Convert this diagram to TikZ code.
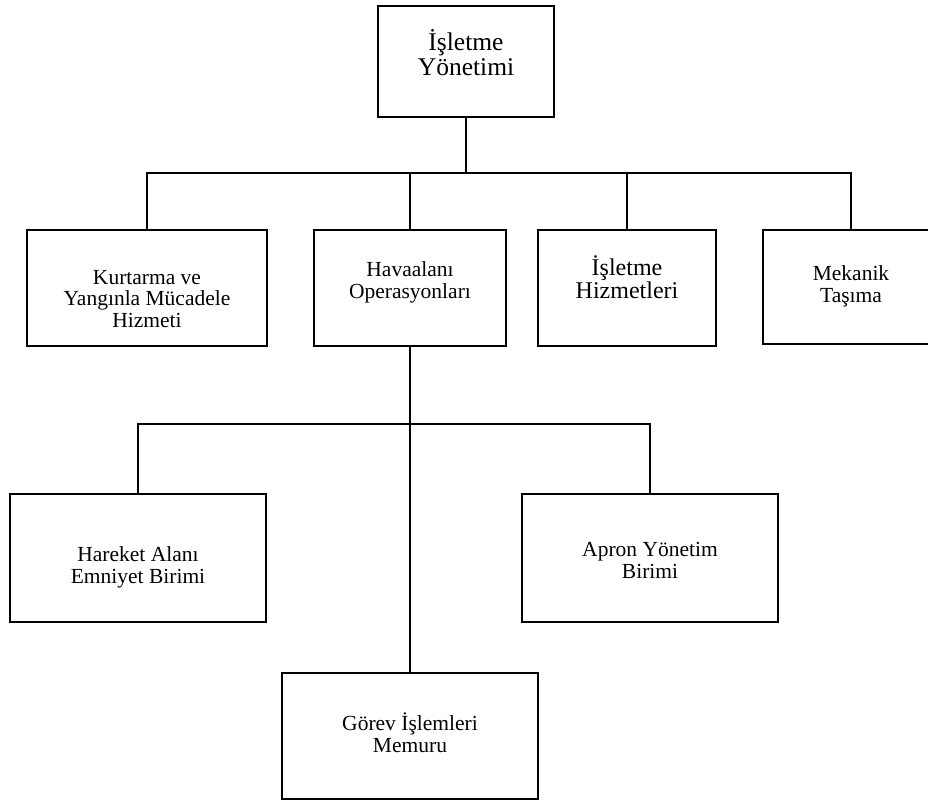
\documentclass[tikz,border=0pt]{standalone}
\usepackage{fontspec}
\setmainfont{Liberation Serif}
\begin{document}
\begin{tikzpicture}[x=1pt,y=-1pt,
  box/.style={draw, line width=1.8pt, rectangle, inner sep=0pt, outer sep=0pt, anchor=north west},
  txt/.style={align=center, anchor=base, inner sep=0pt, font=\fontsize{21.5}{21.5}\selectfont},
  bigtxt/.style={txt, font=\fontsize{25.5}{25}\selectfont},
  midtxt/.style={txt, font=\fontsize{24}{23}\selectfont},
  conn/.style={line width=1.8pt}]
\useasboundingbox (0,0) rectangle (928,801);
% boxes
\node[box, minimum width=176pt, minimum height=111pt] (top) at (378,6) {};
\node[box, minimum width=240pt, minimum height=116pt] (kurt) at (27,230) {};
\node[box, minimum width=192pt, minimum height=116pt] (hava) at (314,230) {};
\node[box, minimum width=178pt, minimum height=116pt] (isl) at (538,230) {};
\node[box, minimum width=176pt, minimum height=114pt] (mek) at (763,230) {};
\node[box, minimum width=256pt, minimum height=128pt] (hare) at (10,494) {};
\node[box, minimum width=256pt, minimum height=128pt] (apron) at (522,494) {};
\node[box, minimum width=256pt, minimum height=126pt] (gorev) at (282,673) {};
% texts (anchored at the baseline of the last line)
\node[bigtxt] (ttop) at (466,75) {İşletme\\Yönetimi};
\node[txt] (tkurt) at (147,327) {Kurtarma ve\\Yangınla Mücadele\\Hizmeti};
\node[txt] (thava) at (410,298) {Havaalanı\\Operasyonları};
\node[midtxt] (tisl) at (627,298) {İşletme\\Hizmetleri};
\node[txt] (tmek) at (851,302) {Mekanik\\Taşıma};
\node[txt] (thare) at (138,583) {Hareket Alanı\\Emniyet Birimi};
\node[txt] (tapron) at (650,578) {Apron Yönetim\\Birimi};
\node[txt] (tgorev) at (410,752) {Görev İşlemleri\\Memuru};
% connectors
\coordinate (b1) at (466,173);
\coordinate (b2) at (410,424);
\draw[conn] (top.south) -- (b1);
\draw[conn] (kurt.north) |- (b1) -| (mek.north);
\draw[conn] (hava.north) -- (hava.north |- b1);
\draw[conn] (isl.north) -- (isl.north |- b1);
\draw[conn] (hava.south) -- (gorev.north);
\draw[conn] (hare.north) |- (b2) -| (apron.north);
\end{tikzpicture}
\end{document}
